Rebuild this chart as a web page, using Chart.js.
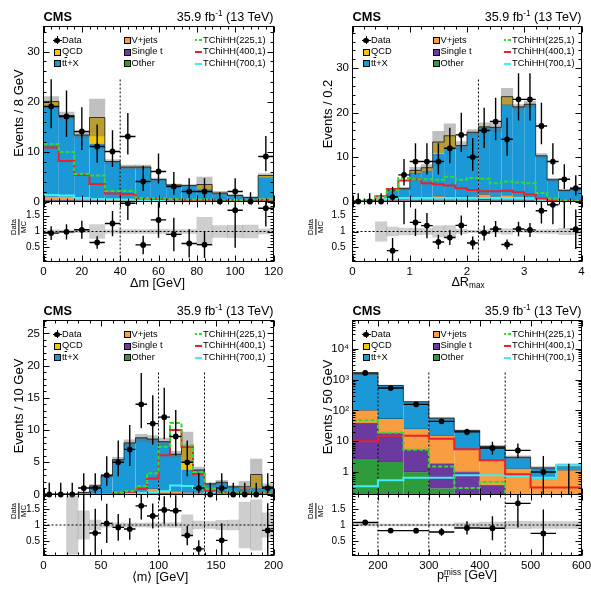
<!DOCTYPE html>
<html>
<head>
<meta charset="utf-8">
<title>TChiHH search variables</title>
<script src="https://cdn.jsdelivr.net/npm/chart.js@4.4.1/dist/chart.umd.min.js"></script>
<style>
  html, body { margin: 0; padding: 0; background: #fff; }
  body { width: 591px; height: 592px; position: relative; overflow: hidden;
         font-family: "Liberation Sans", Arial, Helvetica, sans-serif; color: #000; }
  canvas { position: absolute; }
  .txt { position: absolute; white-space: nowrap; line-height: 1; }
  .box { position: absolute; width: 5px; height: 5px; border: 0.8px solid #000; }
  .seg { position: absolute; width: 7px; height: 2px; }
  .dot { position: absolute; width: 5.5px; height: 5.5px; border-radius: 50%; background: #000; }
  .ln { position: absolute; background: #000; }
  .sup { font-size: 0.65em; position: relative; top: -0.55em; }
  .sub { font-size: 0.65em; position: relative; top: 0.3em; }
  .ol { text-decoration: overline; }
  .frac { display: inline-flex; flex-direction: column; align-items: center; line-height: 1; }
  .frac span:first-child { border-bottom: 0.8px solid #000; padding-bottom: 0.5px; }
  .frac span:last-child { padding-top: 0.5px; }
</style>
</head>
<body>
<script>
// ---- Δm panel (8 GeV bins) ----
const dmEdges = [0, 8, 16, 24, 32, 40, 48, 56, 64, 72, 80, 88, 96, 104, 112, 120];
const dmData = [19, 17, 14, 11, 10, 13, 4, 6, 3, 2, 2, 0, 2, 0, 9];
const dmUp = [5.46, 5.22, 4.85, 4.42, 4.27, 4.71, 3.16, 3.58, 2.92, 2.64, 2.64, 1.84, 2.64, 1.84, 4.11];
const dmDn = [4.35, 4.11, 3.72, 3.27, 3.11, 3.58, 1.91, 2.38, 1.63, 1.29, 1.29, 0, 1.29, 0, 2.94];
const dmOther = [0.15, 0.15, 0.1, 0.1, 0.05, 0.05, 0.05, 0.05, 0.03, 0.03, 0.03, 0.02, 0.02, 0.02, 0.1];
const dmSingleT = [0.2, 0.2, 0.1, 0.1, 0.1, 0.1, 0.05, 0.05, 0.05, 0.05, 0.05, 0.05, 0.02, 0.02, 0.1];
const dmVjets = [0.6, 0.6, 0.4, 0.3, 0.2, 0.2, 0.2, 0.15, 0.15, 0.1, 0.1, 0.1, 0.1, 0.05, 0.4];
const dmTtx = [18.05, 16.25, 12.7, 11.0, 7.65, 6.55, 6.6, 4.15, 3.07, 3.02, 2.22, 1.53, 1.06, 0.71, 4.2];
const dmQcd = [1.0, 0, 0, 5.3, 0, 0, 0, 0, 0, 0, 1.0, 0, 0, 0, 0.4];
const dmUnc = [1.0, 0.7, 0.5, 3.7, 0.4, 0.4, 0.4, 0.3, 0.2, 0.2, 1.5, 0.32, 0.23, 0.16, 0.4];
const dmSig225 = [11.5, 9.9, 5.5, 5.2, 2.1, 2.1, 0.7, 0.6, 0.5, 0.4, 0.4, 0.3, 0.3, 0.3, 0.4];
const dmSig400 = [10.8, 8.1, 5.3, 3.5, 1.6, 1.5, 0.6, 0.5, 0.4, 0.3, 0.3, 0.3, 0.2, 0.2, 0.3];
const dmSig700 = [1.3, 1.2, 0.7, 0.5, 0.45, 0.4, 0.3, 0.25, 0.2, 0.2, 0.15, 0.15, 0.1, 0.1, 0.2];
const dmCuts = [40];
const dmXTicks = [0, 20, 40, 60, 80, 100, 120];
const dmYTicks = [0, 10, 20, 30];

// ---- ΔR_max panel (0.2 bins) ----
const drEdges = [0, 0.2, 0.4, 0.6, 0.8, 1.0, 1.2, 1.4, 1.6, 1.8, 2.0, 2.2, 2.4, 2.6, 2.8, 3.0, 3.2, 3.4, 3.6, 3.8, 4.0];
const drData = [0, 0, 0, 1, 6, 9, 9, 9, 12, 15, 10, 16, 18, 14, 23, 23, 17, 9, 5, 3];
const drUp = [1.84, 1.84, 1.84, 2.30, 3.58, 4.11, 4.11, 4.11, 4.58, 4.99, 4.27, 5.11, 5.36, 4.85, 5.90, 5.90, 5.22, 4.11, 3.38, 2.92];
const drDn = [0, 0, 0, 0.83, 2.38, 2.94, 2.94, 2.94, 3.41, 3.86, 3.11, 3.97, 4.22, 3.72, 4.77, 4.77, 4.11, 2.94, 2.16, 1.63];
const drOther = [0, 0, 0.05, 0.1, 0.1, 0.2, 0.2, 0.2, 0.2, 0.2, 0.2, 0.2, 0.2, 0.2, 0.2, 0.2, 0.1, 0.1, 0.05, 0.05];
const drSingleT = [0, 0, 0, 0.1, 0.1, 0.1, 0.2, 0.2, 0.2, 0.2, 0.2, 0.6, 0.2, 0.2, 0.2, 0.2, 0.1, 0.1, 0.05, 0.05];
const drVjets = [0, 0, 0.1, 0.2, 0.3, 0.6, 0.5, 0.8, 0.6, 0.6, 0.7, 0.8, 0.7, 0.9, 0.7, 0.6, 0.4, 0.3, 0.2, 0.2];
const drTtx = [0, 0, 0.35, 2.1, 2.4, 5.5, 6.0, 9.5, 11.0, 11.6, 14.5, 15.2, 15.6, 20.5, 20.2, 20.9, 9.7, 4.4, 2.2, 2.5];
const drQcd = [0, 0, 0, 0, 0, 0.6, 0.7, 2.7, 2.8, 0, 0, 0, 0, 1.8, 0, 0, 0, 0, 0, 0];
const drUnc = [0, 0, 0.15, 0.35, 0.3, 0.7, 0.7, 2.4, 2.7, 0.9, 0.6, 0.9, 0.9, 1.9, 0.5, 0.7, 0.5, 0.3, 0.25, 0.25];
const drSig225 = [0, 0.3, 1.0, 2.5, 5.3, 5.0, 5.0, 4.9, 5.6, 4.9, 5.3, 5.1, 4.1, 4.5, 4.3, 4.1, 1.9, 0.7, 0.3, 0.2];
const drSig400 = [0, 0.2, 1.2, 2.8, 4.7, 5.0, 4.1, 3.9, 3.6, 3.0, 2.6, 2.3, 2.3, 2.4, 2.1, 1.65, 0.7, 0.3, 0.2, 0.2];
const drSig700 = [0, 0, 0.4, 0.7, 0.8, 0.8, 0.8, 0.8, 0.8, 0.8, 0.8, 0.8, 0.8, 0.8, 0.8, 0.7, 0.4, 0.2, 0.1, 0.1];
const drCuts = [2.2];
const drXTicks = [0, 1, 2, 3, 4];
const drYTicks = [0, 10, 20, 30];

// ---- <m> panel (10 GeV bins) ----
const mavgEdges = [0, 10, 20, 30, 40, 50, 60, 70, 80, 90, 100, 110, 120, 130, 140, 150, 160, 170, 180, 190, 200];
const mavgData = [0, 0, 0, 1, 1, 3, 5, 7, 14, 11, 12, 9, 5, 1, 0, 1, 0, 0, 0, 1];
const mavgUp = [1.84, 1.84, 1.84, 2.30, 2.30, 2.92, 3.38, 3.77, 4.85, 4.42, 4.58, 4.11, 3.38, 2.30, 1.84, 2.30, 1.84, 1.84, 1.84, 2.30];
const mavgDn = [0, 0, 0, 0.83, 0.83, 1.63, 2.16, 2.58, 3.72, 3.27, 3.41, 2.94, 2.16, 0.83, 0, 0.83, 0, 0, 0, 0.83];
const mavgOther = [0, 0, 0, 0.02, 0.05, 0.05, 0.05, 0.1, 0.1, 0.1, 0.1, 0.05, 0.05, 0.05, 0.05, 0.05, 0.02, 0.02, 0.02, 0.02];
const mavgSingleT = [0, 0, 0, 0.03, 0.05, 0.05, 0.1, 0.1, 0.1, 0.1, 0.1, 0.1, 0.05, 0.05, 0.05, 0.05, 0.03, 0.03, 0.03, 0.03];
const mavgVjets = [0, 0, 0, 0.05, 0.1, 0.1, 0.1, 0.2, 0.3, 0.7, 0.3, 0.3, 0.2, 0.2, 0.1, 0.1, 0.05, 0.05, 0.05, 0.05];
const mavgTtx = [0, 0, 0.1, 0.2, 1.13, 2.66, 5.15, 7.6, 8.3, 7.7, 7.7, 5.8, 3.5, 3.5, 1.45, 1.7, 1.1, 0.8, 0.9, 1.1];
const mavgQcd = [0, 0, 0, 0, 0, 0, 0, 0, 0, 0, 0, 0, 3.6, 0, 0, 0, 0, 0.3, 2.1, 0];
const mavgUnc = [0, 0, 0.09, 0.13, 0.2, 0.2, 0.35, 0.5, 0.55, 0.55, 0.55, 0.45, 2.3, 0.45, 0.17, 0.28, 0.18, 0.85, 2.4, 0.45];
const mavgSig225 = [0, 0, 0, 0, 0, 0, 0.3, 0.5, 1.3, 3.3, 7.4, 11.1, 7.6, 3.5, 0.9, 0.3, 0.3, 0.2, 0.2, 0.2];
const mavgSig400 = [0, 0, 0, 0, 0, 0, 0.2, 0.4, 0.9, 2.5, 6.1, 10.0, 7.4, 3.2, 0.6, 0.3, 0.2, 0.2, 0.2, 0.2];
const mavgSig700 = [0, 0, 0, 0, 0, 0, 0.1, 0.15, 0.2, 0.3, 0.5, 1.4, 1.3, 1.0, 0.3, 0.2, 0.1, 0.1, 0.1, 0.1];
const mavgCuts = [100, 140];
const mavgXTicks = [0, 50, 100, 150, 200];
const mavgYTicks = [0, 5, 10, 15, 20, 25];

// ---- pTmiss panel (50 GeV bins, log) ----
const metEdges = [150, 200, 250, 300, 350, 400, 450, 500, 550, 600];
const metData = [1650, 530, 157, 44, 20, 6, 5, 1, 0];
const metUp = [41, 24, 13.5, 7.7, 5.5, 3.58, 3.38, 2.30, 1.84];
const metDn = [40, 23, 12.5, 6.6, 4.4, 2.38, 2.16, 0.83, 0];
const metOther = [2.6, 2.1, 1.0, 0.29, 0.1, 0.05, 0.03, 0.02, 0.02];
const metSingleT = [36.4, 16.5, 4.3, 1.57, 0.9, 0.32, 0.1, 0.05, 0.05];
const metVjets = [61, 35.4, 19.7, 13.1, 4.3, 2.0, 1.15, 0.53, 1.06];
const metTtx = [1430, 586, 165, 41, 16.7, 4.3, 1.72, 0.75, 0.52];
const metQcd = [0, 0, 0, 0, 0, 0, 0, 0, 0];
const metUnc = [45, 18, 5, 1.7, 1.5, 0.6, 0.35, 0.14, 0.17];
const metSig225 = [48, 18.6, 5.3, 1.5, 0.3, 0.47, 0.1, 0.1, 0.1];
const metSig400 = [10, 15, 15, 12, 5.5, 2.4, 0.84, 0.31, 0.31];
const metSig700 = [0.34, 0.54, 0.65, 0.65, 0.78, 0.78, 0.72, 0.65, 1.65];
const metCuts = [200, 300, 450];
const metXTicks = [200, 300, 400, 500, 600];
const metYTicks = [1, 10, 100, 1000, 10000];
const metYLabels = ['1', '10', '10²', '10³', '10⁴'];

const ratioTicks = [0.5, 1, 1.5];

const COL = {
  ttx: '#1b98d6', qcd: '#f2c30f', vjets: '#f89e40', singleT: '#6b3aa0', other: '#2e9b3c',
  s225: '#30dc30', s400: '#e8232b', s700: '#40eef6',
  band: 'rgba(105,105,105,0.42)', rband: 'rgba(120,120,120,0.36)'
};

// page layout: columns / rows of the 2x2 grid
const cols = [{ L: 43.5, R: 273.5, cx: 0, cw: 284 }, { L: 352.5, R: 581.5, cx: 306, cw: 285 }];
const rows = [{ T: 26.5, M: 201.5, B: 261.5 }, { T: 320.5, M: 494.5, B: 555.5 }];

const panels = [
  { col: 0, row: 0, edges: dmEdges, data: dmData, up: dmUp, dn: dmDn, other: dmOther, singleT: dmSingleT,
    vjets: dmVjets, ttx: dmTtx, qcd: dmQcd, unc: dmUnc, s225: dmSig225, s400: dmSig400, s700: dmSig700,
    cuts: dmCuts, cutTop: 24.6, yMin: 0, yMax: 35, log: false, yTicks: dmYTicks, xTicks: dmXTicks,
    xMajor: 20, xMinor: 4, yMajor: 10, yMinor: 2,
    xTitle: 'Δm [GeV]', xTitleX: 157.5, xTitleBase: 287.8,
    yTitle: 'Events / 8 GeV', yTitleX: 18.3, yTitleY: 112.5, rTitleX: 18.7, rTitleY: 226.5, rPad: 3.5 },
  { col: 1, row: 0, edges: drEdges, data: drData, up: drUp, dn: drDn, other: drOther, singleT: drSingleT,
    vjets: drVjets, ttx: drTtx, qcd: drQcd, unc: drUnc, s225: drSig225, s400: drSig400, s700: drSig700,
    cuts: drCuts, cutTop: 27.9, yMin: 0, yMax: 39.4, log: false, yTicks: drYTicks, xTicks: drXTicks,
    xMajor: 1, xMinor: 0.2, yMajor: 10, yMinor: 2,
    xTitle: 'ΔR<span class="sub">max</span>', xTitleX: 468, xTitleBase: 286.7,
    yTitle: 'Events / 0.2', yTitleX: 327, yTitleY: 113.5, rTitleX: 316, rTitleY: 226.5, rPad: 7 },
  { col: 0, row: 1, edges: mavgEdges, data: mavgData, up: mavgUp, dn: mavgDn, other: mavgOther, singleT: mavgSingleT,
    vjets: mavgVjets, ttx: mavgTtx, qcd: mavgQcd, unc: mavgUnc, s225: mavgSig225, s400: mavgSig400, s700: mavgSig700,
    cuts: mavgCuts, cutTop: 19.0, yMin: 0, yMax: 27, log: false, yTicks: mavgYTicks, xTicks: mavgXTicks,
    xMajor: 50, xMinor: 10, yMajor: 5, yMinor: 1,
    xTitle: '⟨m⟩ [GeV]', xTitleX: 160, xTitleBase: 582,
    yTitle: 'Events / 10 GeV', yTitleX: 18.3, yTitleY: 406, rTitleX: 18.7, rTitleY: 511, rPad: 3.5 },
  { col: 1, row: 1, edges: metEdges, data: metData, up: metUp, dn: metDn, other: metOther, singleT: metSingleT,
    vjets: metVjets, ttx: metTtx, qcd: metQcd, unc: metUnc, s225: metSig225, s400: metSig400, s700: metSig700,
    cuts: metCuts, cutTop: 1740, yMin: 0.185, yMax: 83000, log: true, yTicks: metYTicks, yLabels: metYLabels,
    xTicks: metXTicks, xMajor: 100, xMinor: 20, yMajor: 10, yMinor: 1,
    xTitle: 'p<span class="sub">T</span><span class="sup" style="margin-left:-0.6em">miss</span> [GeV]',
    xTitleX: 467, xTitleBase: 580,
    yTitle: 'Events / 50 GeV', yTitleX: 327, yTitleY: 407, rTitleX: 316, rTitleY: 511, rPad: 7 }
];

Chart.defaults.font.family = '"Liberation Sans", Arial, Helvetica, sans-serif';
Chart.defaults.color = '#000';

function tickValues(min, max, major, minor, log) {
  const out = [];
  if (log) {
    for (let d = Math.floor(Math.log10(min)); d <= Math.ceil(Math.log10(max)); d++) {
      for (let k = 1; k < 10; k++) {
        const v = k * Math.pow(10, d);
        if (v >= min && v <= max) out.push([v, k === 1]);
      }
    }
    return out;
  }
  const n0 = Math.ceil(min / minor - 1e-6), n1 = Math.floor(max / minor + 1e-6);
  for (let n = n0; n <= n1; n++) {
    const v = n * minor;
    out.push([v, Math.abs(v / major - Math.round(v / major)) < 1e-6]);
  }
  return out;
}

// black frame with inward ticks on all four sides
const framePlugin = {
  id: 'frame',
  afterDatasetsDraw(chart, args, o) {
    const { ctx, chartArea: a, scales: { x, y } } = chart;
    ctx.save();
    ctx.strokeStyle = '#000';
    ctx.lineWidth = 1;
    ctx.beginPath();
    const tl = o.tick;
    for (const [v, major] of tickValues(x.min, x.max, o.xMajor, o.xMinor, false)) {
      const px = Math.round(x.getPixelForValue(v)) + 0.5;
      const len = major ? tl : tl / 2;
      ctx.moveTo(px, a.bottom); ctx.lineTo(px, a.bottom - len);
      ctx.moveTo(px, a.top); ctx.lineTo(px, a.top + len);
    }
    for (const [v, major] of tickValues(y.min, y.max, o.yMajor, o.yMinor, o.log)) {
      const py = Math.round(y.getPixelForValue(v)) + 0.5;
      const len = major ? tl : tl / 2;
      ctx.moveTo(a.left, py); ctx.lineTo(a.left + len, py);
      ctx.moveTo(a.right, py); ctx.lineTo(a.right - len, py);
    }
    ctx.stroke();
    ctx.strokeRect(a.left, a.top, a.right - a.left, a.bottom - a.top);
    ctx.restore();
  }
};

// data error bars (vertical = stat. error, horizontal = bin width)
const errorBars = {
  id: 'errorBars',
  afterDatasetsDraw(chart) {
    const { ctx, chartArea: a, scales: { x, y } } = chart;
    const isLog = y.type === 'logarithmic';
    ctx.save();
    ctx.beginPath();
    ctx.rect(a.left, a.top, a.right - a.left, a.bottom - a.top);
    ctx.clip();
    ctx.strokeStyle = '#000';
    ctx.lineWidth = 1.4;
    ctx.beginPath();
    chart.data.datasets.forEach(ds => {
      if (!ds.errUp) return;
      ds.data.forEach((pt, i) => {
        if (pt.y === null) return;
        const px = x.getPixelForValue(pt.x);
        const lo = pt.y - ds.errDn[i], hi = pt.y + ds.errUp[i];
        const pLo = (isLog && lo <= y.min) ? a.bottom : y.getPixelForValue(Math.max(lo, y.min));
        ctx.moveTo(px, pLo);
        ctx.lineTo(px, y.getPixelForValue(hi));
        if (!(isLog && pt.y <= 0)) {
          const py = y.getPixelForValue(pt.y);
          ctx.moveTo(x.getPixelForValue(pt.x - ds.halfW[i]), py);
          ctx.lineTo(x.getPixelForValue(pt.x + ds.halfW[i]), py);
        }
      });
    });
    ctx.stroke();
    ctx.restore();
  }
};

function addCanvas(left, top, w, h) {
  const c = document.createElement('canvas');
  c.width = w; c.height = h;
  c.style.left = left + 'px'; c.style.top = top + 'px';
  c.style.width = w + 'px'; c.style.height = h + 'px';
  document.body.appendChild(c);
  return c;
}

function stepPoints(edges, vals) {
  const pts = vals.map((v, i) => ({ x: edges[i], y: v }));
  pts.push({ x: edges[edges.length - 1], y: vals[vals.length - 1] });
  return pts;
}

function stepLine(vals, edges, color, width, dash, stack) {
  return {
    type: 'line', data: stepPoints(edges, vals), borderColor: color, borderWidth: width,
    borderDash: dash, stepped: 'before', pointRadius: 0, fill: false, order: 1, stack
  };
}

function vLine(x, y0, y1, stack) {
  return {
    type: 'line', data: [{ x, y: y0 }, { x, y: y1 }], borderColor: '#000', borderWidth: 1,
    borderDash: [2, 2], pointRadius: 0, fill: false, order: 2, stack
  };
}

function drawPanel(p) {
  const col = cols[p.col], row = rows[p.row];
  const xc = p.edges.slice(0, -1).map((e, i) => (e + p.edges[i + 1]) / 2);
  const hw = p.edges.slice(0, -1).map((e, i) => (p.edges[i + 1] - e) / 2);
  const tot = p.ttx.map((_, i) => p.other[i] + p.singleT[i] + p.vjets[i] + p.ttx[i] + p.qcd[i]);
  const xMin = p.edges[0], xMax = p.edges[p.edges.length - 1];

  const bar = (vals, color) => ({
    type: 'bar', data: vals.map((v, i) => ({ x: xc[i], y: v })), backgroundColor: color,
    borderColor: 'rgba(0,0,0,0.55)', borderWidth: { top: 0.6, left: 0, right: 0, bottom: 0 },
    barPercentage: 1, categoryPercentage: 1, order: 4, stack: 'mc'
  });

  const mainSets = [
    { type: 'line', data: xc.map((x, i) => ({ x, y: p.data[i] })), showLine: false, pointRadius: 2.9,
      pointBackgroundColor: '#000', pointBorderWidth: 0, errUp: p.up, errDn: p.dn, halfW: hw,
      order: 0, stack: 'data', clip: 4 },
    stepLine(p.s225, p.edges, COL.s225, 2, [4, 2], 'sA'),
    stepLine(p.s400, p.edges, COL.s400, 2, [], 'sB'),
    stepLine(p.s700, p.edges, COL.s700, 2, [], 'sC'),
    Object.assign(stepLine(tot, p.edges, '#1a1a1a', 0.8, [], 'tot'), { order: 2 }),
    ...p.cuts.map((c, i) => vLine(c, p.yMin, p.cutTop, 'cut' + i)),
    { type: 'bar', data: xc.map((x, i) => ({ x, y: tot[i] > 0 ? [Math.max(tot[i] - p.unc[i], p.log ? p.yMin : 0), tot[i] + p.unc[i]] : null })),
      backgroundColor: COL.band, borderWidth: 0, barPercentage: 1, categoryPercentage: 1,
      grouped: false, stack: 'band', order: 3 },
    bar(p.other, COL.other),
    bar(p.singleT, COL.singleT),
    bar(p.vjets, COL.vjets),
    bar(p.ttx, COL.ttx),
    bar(p.qcd, COL.qcd)
  ];

  const mc = addCanvas(col.cx, row.T - 6.5, col.cw, row.M - row.T + 16);
  new Chart(mc, {
    type: 'bar',
    data: { datasets: mainSets },
    options: {
      responsive: false, animation: false, events: [],
      layout: { padding: { top: 6.5, bottom: 9.5, left: 0, right: col.cx + col.cw - col.R } },
      plugins: {
        legend: { display: false }, tooltip: { enabled: false },
        frame: { tick: 6, xMajor: p.xMajor, xMinor: p.xMinor, yMajor: p.yMajor, yMinor: p.yMinor, log: p.log }
      },
      scales: {
        x: { type: 'linear', stacked: true, min: xMin, max: xMax, offset: false, display: false },
        y: {
          type: p.log ? 'logarithmic' : 'linear', stacked: true, min: p.yMin, max: p.yMax,
          grid: { display: false, drawTicks: false }, border: { display: false },
          afterBuildTicks: s => { s.ticks = p.yTicks.map(v => ({ value: v })); },
          afterFit: s => { s.width = col.L - col.cx; s.paddingTop = 0; s.paddingBottom = 0; },
          ticks: { padding: 3.5, font: { size: 11.5 }, color: '#000',
                   callback: (v, i) => p.yLabels ? p.yLabels[i] : String(v) }
        }
      }
    },
    plugins: [errorBars, framePlugin]
  });

  // ratio pad
  const ratio = p.data.map((d, i) => (tot[i] > 0 && d > 0) ? d / tot[i] : null);
  const rErr = p.data.map((d, i) => tot[i] > 0 ? Math.sqrt(d) / tot[i] : 0);
  const ratioSets = [
    { type: 'line', data: xc.map((x, i) => ({ x, y: ratio[i] })), showLine: false, pointRadius: 2.9,
      pointBackgroundColor: '#000', pointBorderWidth: 0, errUp: rErr, errDn: rErr, halfW: hw, order: 0, clip: 0 },
    { type: 'line', data: [{ x: xMin, y: 1 }, { x: xMax, y: 1 }], borderColor: '#000', borderWidth: 1,
      borderDash: [2, 2], pointRadius: 0, fill: false, order: 2 },
    ...p.cuts.map(c => vLine(c, 0.06, 1.94)),
    { type: 'bar', data: xc.map((x, i) => ({ x, y: tot[i] > 0 ? [1 - p.unc[i] / tot[i], 1 + p.unc[i] / tot[i]] : null })),
      backgroundColor: COL.rband, borderWidth: 0, barPercentage: 1, categoryPercentage: 1, order: 5 }
  ];
  const rc = addCanvas(col.cx, row.M - 6.5, col.cw, row.B - row.M + 30);
  new Chart(rc, {
    type: 'bar',
    data: { datasets: ratioSets },
    options: {
      responsive: false, animation: false, events: [],
      layout: { padding: { top: 6.5, bottom: 0, left: 0, right: col.cx + col.cw - col.R } },
      plugins: {
        legend: { display: false }, tooltip: { enabled: false },
        frame: { tick: 6, xMajor: p.xMajor, xMinor: p.xMinor, yMajor: 0.5, yMinor: 0.1, log: false }
      },
      scales: {
        x: {
          type: 'linear', min: xMin, max: xMax, offset: false,
          grid: { display: false, drawTicks: false }, border: { display: false },
          afterBuildTicks: s => { s.ticks = p.xTicks.map(v => ({ value: v })); },
          afterFit: s => { s.height = 23.5; s.paddingLeft = 0; s.paddingRight = 0; },
          ticks: { padding: 3, maxRotation: 0, autoSkip: false, font: { size: 11.5 }, color: '#000',
                   callback: v => String(v) }
        },
        y: {
          type: 'linear', min: 0.06, max: 1.94,
          grid: { display: false, drawTicks: false }, border: { display: false },
          afterBuildTicks: s => { s.ticks = ratioTicks.map(v => ({ value: v })); },
          afterFit: s => { s.width = col.L - col.cx; s.paddingTop = 0; s.paddingBottom = 0; },
          ticks: { padding: p.rPad, font: { size: 10 }, color: '#000', callback: v => String(v) }
        }
      }
    },
    plugins: [errorBars, framePlugin]
  });

  // titles and legend as page text
  const yOff = row.T - 26.5;
  addText('<b>CMS</b>', col.L, 21.7 + yOff, 12.8, 'left');
  addText('35.9 fb<span class="sup">-1</span> (13 TeV)', col.R, 21.7 + yOff, 12.6, 'right');
  addText(p.xTitle, p.xTitleX, p.xTitleBase, 12.7, 'center');
  addRotated(p.yTitle, p.yTitleX, p.yTitleY, 13);
  addRotated('<div class="frac"><span>Data</span><span>MC</span></div>', p.rTitleX, p.rTitleY, 7.6);
  addLegend(col.L, row.T);
}

function addText(html, x, base, size, align) {
  const d = document.createElement('div');
  d.className = 'txt';
  d.innerHTML = html;
  d.style.fontSize = size + 'px';
  d.style.left = x + 'px';
  d.style.top = (base - 0.85 * size) + 'px';
  if (align === 'center') d.style.transform = 'translateX(-50%)';
  if (align === 'right') d.style.transform = 'translateX(-100%)';
  document.body.appendChild(d);
}

function addRotated(html, cx, cy, size) {
  const d = document.createElement('div');
  d.className = 'txt';
  d.innerHTML = html;
  d.style.fontSize = size + 'px';
  d.style.left = cx + 'px';
  d.style.top = cy + 'px';
  d.style.transform = 'translate(-50%, -50%) rotate(-90deg)';
  document.body.appendChild(d);
}

function addEl(cls, left, top, style) {
  const d = document.createElement('div');
  d.className = cls;
  d.style.left = left + 'px';
  d.style.top = top + 'px';
  Object.assign(d.style, style || {});
  document.body.appendChild(d);
}

function addLegend(L, T) {
  const rowsY = [13.7, 25.3, 37.0].map(v => v + T);
  const fs = 9.3;
  // column 1
  addEl('ln', L + 9, rowsY[0] - 0.5, { width: '9px', height: '1px' });
  addEl('ln', L + 13, rowsY[0] - 4, { width: '1px', height: '8px' });
  addEl('dot', L + 10.8, rowsY[0] - 2.7);
  addText('Data', L + 18.5, rowsY[0] + 3.3, fs, 'left');
  addEl('box', L + 10, rowsY[1] - 3.3, { background: COL.qcd });
  addText('QCD', L + 18.5, rowsY[1] + 3.3, fs, 'left');
  addEl('box', L + 10, rowsY[2] - 3.3, { background: COL.ttx });
  addText('t<span class="ol">t</span>+X', L + 18.5, rowsY[2] + 3.3, fs, 'left');
  // column 2
  const c2 = [['V+jets', COL.vjets], ['Single t', COL.singleT], ['Other', COL.other]];
  c2.forEach(([name, color], i) => {
    addEl('box', L + 80.5, rowsY[i] - 3.3, { background: color });
    addText(name, L + 88, rowsY[i] + 3.3, fs, 'left');
  });
  // column 3
  const c3 = [['TChiHH(225,1)', 'repeating-linear-gradient(90deg,' + COL.s225 + ' 0 2.5px, transparent 2.5px 4.5px)'],
              ['TChiHH(400,1)', COL.s400], ['TChiHH(700,1)', COL.s700]];
  c3.forEach(([name, bg], i) => {
    addEl('seg', L + 151, rowsY[i] - 1, { background: bg });
    addText(name, L + 159.5, rowsY[i] + 3.3, fs, 'left');
  });
}

panels.forEach(drawPanel);
</script>
</body>
</html>
